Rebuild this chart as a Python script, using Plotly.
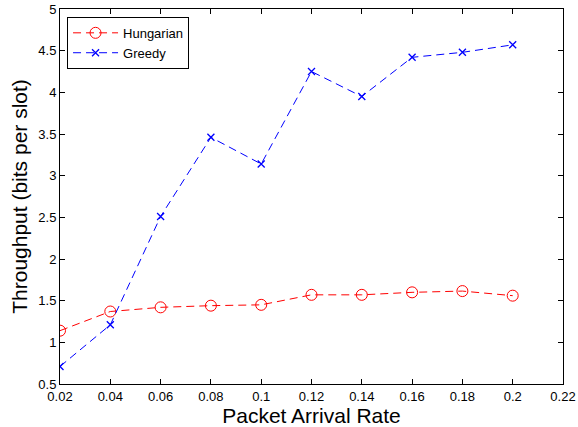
import plotly.graph_objects as go

rates = [0.02, 0.04, 0.06, 0.08, 0.10, 0.12, 0.14, 0.16, 0.18, 0.20]
hungarian = [1.14, 1.37, 1.42, 1.44, 1.45, 1.57, 1.57, 1.60, 1.615, 1.56]
greedy = [0.71, 1.21, 2.51, 3.46, 3.14, 4.25, 3.95, 4.42, 4.48, 4.57]
x_ticks = [0.02, 0.04, 0.06, 0.08, 0.1, 0.12, 0.14, 0.16, 0.18, 0.2, 0.22]
x_tick_text = ["0.02", "0.04", "0.06", "0.08", "0.1", "0.12", "0.14", "0.16", "0.18", "0.2", "0.22"]
y_ticks = [0.5, 1, 1.5, 2, 2.5, 3, 3.5, 4, 4.5, 5]
y_tick_text = ["0.5", "1", "1.5", "2", "2.5", "3", "3.5", "4", "4.5", "5"]

fig = go.Figure()
fig.add_trace(go.Scatter(
    x=rates, y=hungarian, name="Hungarian", mode="lines+markers",
    line=dict(color="#ff0000", dash="8px,5px", width=1),
    marker=dict(symbol="circle-open", size=11, color="#ff0000", line=dict(width=1)),
))
fig.add_trace(go.Scatter(
    x=rates, y=greedy, name="Greedy", mode="lines+markers",
    line=dict(color="#0000ff", dash="8px,5px", width=1),
    marker=dict(symbol="x-thin-open", size=7, color="#0000ff", line=dict(width=1.3, color="#0000ff")),
))

axis_common = dict(
    showline=True, linecolor="black", linewidth=1, mirror="ticks",
    ticks="inside", ticklen=5, tickcolor="black", showgrid=False, zeroline=False,
    tickfont=dict(size=13, color="black"), automargin=False,
)
fig.update_xaxes(range=[0.02, 0.22], tickvals=x_ticks, ticktext=x_tick_text,
                 title=dict(text="Packet Arrival Rate", font=dict(size=21, color="black"), standoff=2),
                 **axis_common)
fig.update_yaxes(range=[0.5, 5], tickvals=y_ticks, ticktext=y_tick_text,
                 title=dict(text="Throughput (bits per slot)", font=dict(size=21, color="black"), standoff=4),
                 **axis_common)

fig.update_layout(
    width=578, height=427,
    margin=dict(l=60, r=15, t=9, b=43),
    paper_bgcolor="white", plot_bgcolor="white",
    font=dict(family="Liberation Sans, Arial, sans-serif", color="black"),
    showlegend=True,
    legend=dict(x=0.014, y=0.979, xanchor="left", yanchor="top",
                bgcolor="white", bordercolor="black", borderwidth=1,
                font=dict(size=13), tracegroupgap=0, itemwidth=45),
)
fig.write_html("out.html", config={"displayModeBar": False},
               post_script="document.body.style.margin='0';")
